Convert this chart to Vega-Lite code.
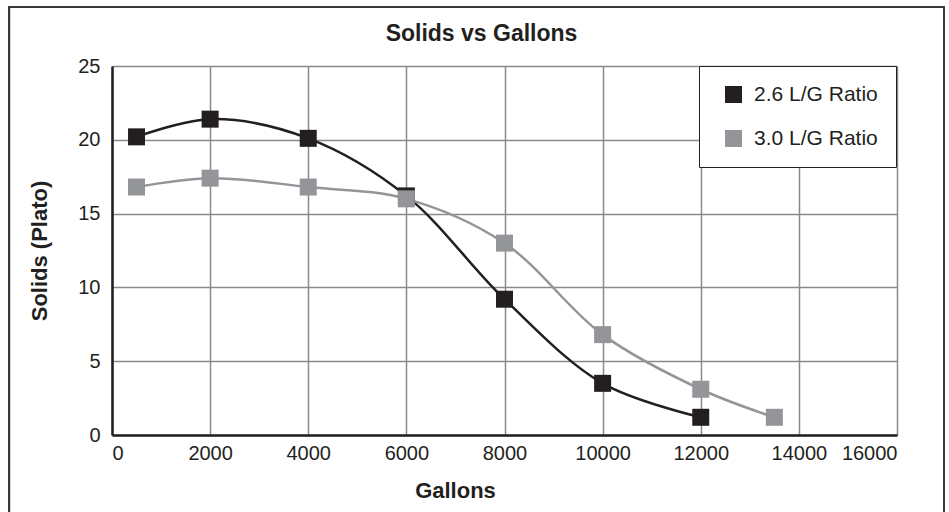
{
  "$schema": "https://vega.github.io/schema/vega-lite/v6.json",
  "width": 785,
  "height": 369,
  "autosize": "none",
  "padding": {"left": 112, "top": 66, "right": 52, "bottom": 77},
  "background": "white",
  "config": {
    "font": "Liberation Sans",
    "view": {"stroke": null},
    "axis": {
      "grid": true,
      "gridColor": "#8a8a8a",
      "gridWidth": 1.5,
      "gridOpacity": 1,
      "domainColor": "#231f20",
      "domainWidth": 2.5,
      "ticks": false,
      "labelFontSize": 20,
      "labelColor": "#231f20",
      "titleFontSize": 22,
      "titleFontWeight": "bold",
      "titleColor": "#231f20"
    },
    "legend": {
      "orient": "none",
      "legendX": 587,
      "legendY": 0,
      "strokeColor": "#231f20",
      "fillColor": "white",
      "padding": 18,
      "labelFontSize": 21,
      "labelColor": "#231f20",
      "symbolSize": 289,
      "symbolType": "square",
      "symbolStrokeWidth": 0,
      "symbolOffset": 6,
      "rowPadding": 22,
      "labelOffset": 10
    }
  },
  "title": {
    "text": "Solids vs Gallons",
    "fontSize": 23,
    "fontWeight": "bold",
    "color": "#231f20",
    "anchor": "middle",
    "frame": "group",
    "dx": -23,
    "offset": -40
  },
  "data": {
    "values": [
      {"gallons": 500, "solids": 20.2, "series": "2.6 L/G Ratio"},
      {"gallons": 2000, "solids": 21.4, "series": "2.6 L/G Ratio"},
      {"gallons": 4000, "solids": 20.1, "series": "2.6 L/G Ratio"},
      {"gallons": 6000, "solids": 16.2, "series": "2.6 L/G Ratio"},
      {"gallons": 8000, "solids": 9.2, "series": "2.6 L/G Ratio"},
      {"gallons": 10000, "solids": 3.5, "series": "2.6 L/G Ratio"},
      {"gallons": 12000, "solids": 1.2, "series": "2.6 L/G Ratio"},
      {"gallons": 500, "solids": 16.8, "series": "3.0 L/G Ratio"},
      {"gallons": 2000, "solids": 17.4, "series": "3.0 L/G Ratio"},
      {"gallons": 4000, "solids": 16.8, "series": "3.0 L/G Ratio"},
      {"gallons": 6000, "solids": 16.0, "series": "3.0 L/G Ratio"},
      {"gallons": 8000, "solids": 13.0, "series": "3.0 L/G Ratio"},
      {"gallons": 10000, "solids": 6.8, "series": "3.0 L/G Ratio"},
      {"gallons": 12000, "solids": 3.1, "series": "3.0 L/G Ratio"},
      {"gallons": 13500, "solids": 1.2, "series": "3.0 L/G Ratio"}
    ]
  },
  "layer": [
    {
      "mark": {"type": "line", "interpolate": "catmull-rom", "strokeWidth": 2.5},
      "encoding": {
        "x": {
          "field": "gallons",
          "type": "quantitative",
          "title": "Gallons",
          "scale": {"domain": [0, 16000], "nice": false},
          "axis": {"grid": true, "values": [0, 2000, 4000, 6000, 8000, 10000, 12000, 14000, 16000], "format": "d", "labelPadding": 8, "titleX": 343, "titleY": 62, "titleBaseline": "alphabetic"}
        },
        "y": {
          "field": "solids",
          "type": "quantitative",
          "title": "Solids (Plato)",
          "scale": {"domain": [0, 25], "nice": false},
          "axis": {"grid": true, "values": [0, 5, 10, 15, 20, 25], "labelPadding": 12, "titlePadding": 26}
        },
        "color": {"field": "series", "type": "nominal", "legend": null,
          "scale": {"domain": ["2.6 L/G Ratio", "3.0 L/G Ratio"], "range": ["#231f20", "#939598"]}}
      }
    },
    {
      "mark": {"type": "point", "shape": "square", "filled": true, "size": 289, "opacity": 1},
      "encoding": {
        "x": {"field": "gallons", "type": "quantitative"},
        "y": {"field": "solids", "type": "quantitative"},
        "color": {
          "field": "series",
          "type": "nominal",
          "title": null,
          "legend": {"title": null},
          "scale": {"domain": ["2.6 L/G Ratio", "3.0 L/G Ratio"], "range": ["#231f20", "#939598"]}
        }
      }
    },
    {
      "mark": {"type": "rect", "fill": null, "stroke": "#3a3a3a", "strokeWidth": 2, "clip": false},
      "encoding": {
        "x": {"datum": -2099, "type": "quantitative"},
        "x2": {"datum": 16958},
        "y": {"datum": 29.0, "type": "quantitative"},
        "y2": {"datum": -7}
      }
    }
  ],
  "resolve": {"legend": {"color": "independent"}}
}
